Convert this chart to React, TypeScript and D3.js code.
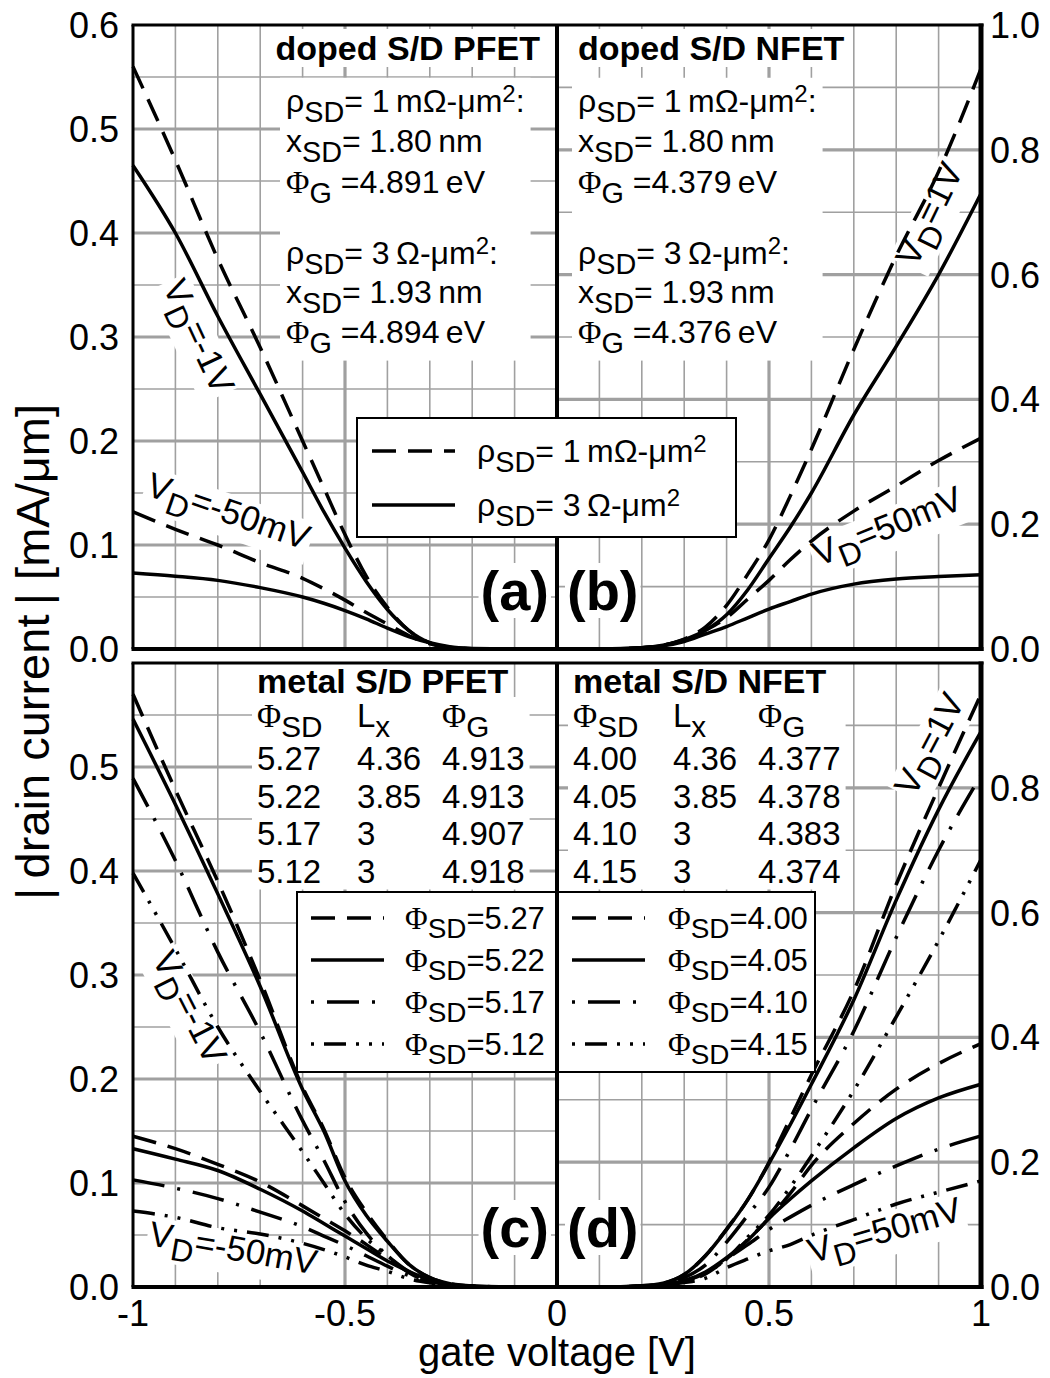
import React, { useEffect, useRef } from "react";
import * as d3 from "d3";

const W = 1050;
const H = 1378;
const FONT = "'Liberation Sans', Arial, Helvetica, sans-serif";
const SERIF = "'Liberation Serif', 'Times New Roman', serif";

// gate voltage samples [V]
const vgP = [-1, -0.9, -0.8, -0.7, -0.6, -0.55, -0.5, -0.45, -0.4, -0.35, -0.3, -0.25, -0.2, -0.1, 0];
const vgN = [0, 0.1, 0.2, 0.25, 0.3, 0.35, 0.4, 0.45, 0.5, 0.55, 0.6, 0.7, 0.8, 0.9, 1];

// (a) doped S/D PFET, |I_D| in mA/um (left axis)
const aDash1V = [0.56, 0.47, 0.375, 0.29, 0.2, 0.155, 0.11, 0.07, 0.04, 0.018, 0.006, 0.0015, 0.0003, 0, 0];
const aSolid1V = [0.465, 0.4, 0.32, 0.245, 0.17, 0.132, 0.097, 0.065, 0.038, 0.018, 0.006, 0.0015, 0.0003, 0, 0];
const aDash50 = [0.132, 0.115, 0.1, 0.083, 0.068, 0.058, 0.047, 0.035, 0.024, 0.013, 0.005, 0.0015, 0.0003, 0, 0];
const aSolid50 = [0.073, 0.07, 0.066, 0.059, 0.05, 0.044, 0.037, 0.029, 0.02, 0.012, 0.006, 0.002, 0.0005, 0, 0];

// (b) doped S/D NFET (right axis)
const bDash1V = [0, 0, 0.002, 0.006, 0.016, 0.035, 0.07, 0.12, 0.175, 0.245, 0.32, 0.48, 0.63, 0.765, 0.93];
const bSolid1V = [0, 0, 0.002, 0.006, 0.015, 0.03, 0.055, 0.095, 0.145, 0.195, 0.25, 0.375, 0.485, 0.6, 0.73];
const bDash50 = [0, 0, 0.002, 0.006, 0.014, 0.03, 0.05, 0.08, 0.11, 0.143, 0.173, 0.221, 0.261, 0.302, 0.338];
const bSolid50 = [0, 0.0003, 0.002, 0.005, 0.012, 0.024, 0.036, 0.05, 0.064, 0.076, 0.088, 0.104, 0.112, 0.116, 0.119];

// (c) metal S/D PFET (left axis)
const c527_1V = [0.57, 0.478, 0.39, 0.295, 0.192, 0.152, 0.105, 0.072, 0.045, 0.022, 0.009, 0.003, 0.001, 0, 0];
const c522_1V = [0.546, 0.464, 0.378, 0.289, 0.19, 0.15, 0.102, 0.069, 0.044, 0.022, 0.009, 0.003, 0.001, 0, 0];
const c517_1V = [0.489, 0.41, 0.322, 0.245, 0.16, 0.122, 0.082, 0.052, 0.03, 0.014, 0.005, 0.002, 0.0005, 0, 0];
const c512_1V = [0.398, 0.325, 0.25, 0.188, 0.13, 0.1, 0.07, 0.047, 0.03, 0.015, 0.006, 0.002, 0.0005, 0, 0];
const c527_50 = [0.145, 0.133, 0.118, 0.101, 0.078, 0.066, 0.054, 0.041, 0.027, 0.015, 0.007, 0.002, 0.0005, 0, 0];
const c522_50 = [0.133, 0.123, 0.112, 0.094, 0.073, 0.061, 0.049, 0.037, 0.025, 0.015, 0.007, 0.002, 0.0005, 0, 0];
const c517_50 = [0.103, 0.095, 0.085, 0.072, 0.058, 0.049, 0.04, 0.03, 0.02, 0.011, 0.005, 0.002, 0.0005, 0, 0];
const c512_50 = [0.073, 0.067, 0.057, 0.051, 0.042, 0.036, 0.029, 0.021, 0.015, 0.008, 0.004, 0.0015, 0.0005, 0, 0];

// (d) metal S/D NFET (right axis)
const d400_1V = [0, 0, 0.002, 0.006, 0.02, 0.05, 0.093, 0.14, 0.2, 0.27, 0.34, 0.475, 0.645, 0.8, 0.95];
const d405_1V = [0, 0, 0.002, 0.006, 0.02, 0.05, 0.092, 0.14, 0.198, 0.26, 0.325, 0.46, 0.62, 0.765, 0.89];
const d410_1V = [0, 0, 0.001, 0.004, 0.015, 0.035, 0.072, 0.115, 0.16, 0.22, 0.285, 0.41, 0.56, 0.7, 0.82];
const d415_1V = [0, 0, 0.001, 0.003, 0.009, 0.022, 0.045, 0.08, 0.115, 0.16, 0.21, 0.315, 0.433, 0.555, 0.685];
const d400_50 = [0, 0, 0.001, 0.004, 0.009, 0.021, 0.045, 0.076, 0.11, 0.15, 0.195, 0.262, 0.317, 0.358, 0.39];
const d405_50 = [0, 0, 0.001, 0.004, 0.01, 0.024, 0.047, 0.075, 0.11, 0.141, 0.17, 0.223, 0.27, 0.303, 0.325];
const d410_50 = [0, 0, 0.001, 0.004, 0.01, 0.022, 0.045, 0.068, 0.092, 0.112, 0.131, 0.164, 0.194, 0.221, 0.242];
const d415_50 = [0, 0, 0.001, 0.003, 0.007, 0.014, 0.031, 0.045, 0.058, 0.068, 0.083, 0.108, 0.133, 0.152, 0.17];

// ticks
const xTickVals = [-1, -0.5, 0, 0.5, 1];
const xTickLabels = ["-1", "-0.5", "0", "0.5", "1"];
const leftTicksTop = [0, 0.1, 0.2, 0.3, 0.4, 0.5, 0.6];
const leftTicksBottom = [0, 0.1, 0.2, 0.3, 0.4, 0.5];
const rightTicksTop = [0, 0.2, 0.4, 0.6, 0.8, 1.0];
const rightTicksBottom = [0, 0.2, 0.4, 0.6, 0.8];

// annotation texts
const dopedP = ["ρ_{SD}= 1\u2009mΩ-μm^{2}:", "x_{SD}= 1.80\u2009nm", "Φ_{G} =4.891\u2009eV", "ρ_{SD}= 3\u2009Ω-μm^{2}:", "x_{SD}= 1.93\u2009nm", "Φ_{G} =4.894\u2009eV"];
const dopedN = ["ρ_{SD}= 1\u2009mΩ-μm^{2}:", "x_{SD}= 1.80\u2009nm", "Φ_{G} =4.379\u2009eV", "ρ_{SD}= 3\u2009Ω-μm^{2}:", "x_{SD}= 1.93\u2009nm", "Φ_{G} =4.376\u2009eV"];
const tableHead = ["Φ_{SD}", "L_{x}", "Φ_{G}"];
const metalP = [["5.27", "4.36", "4.913"], ["5.22", "3.85", "4.913"], ["5.17", "3", "4.907"], ["5.12", "3", "4.918"]];
const metalN = [["4.00", "4.36", "4.377"], ["4.05", "3.85", "4.378"], ["4.10", "3", "4.383"], ["4.15", "3", "4.374"]];
const phiP = ["5.27", "5.22", "5.17", "5.12"];
const phiN = ["4.00", "4.05", "4.10", "4.15"];
const metalStyles = ["dash", "solid", "dashdot", "dashdotdot"];

const dashes: Record<string, string | null> = {
  solid: null,
  dash: "24,12",
  dashdot: "32,13,3,13",
  dashdotdot: "22,10,3,10,3,10",
};

type Sel = d3.Selection<any, unknown, null, undefined>;

function tokens(s: string): [string, string][] {
  const out: [string, string][] = [];
  const re = /([_^])\{([^}]*)\}/g;
  let last = 0;
  let m: RegExpExecArray | null;
  while ((m = re.exec(s))) {
    if (m.index > last) out.push([s.slice(last, m.index), "n"]);
    out.push([m[2], m[1] === "_" ? "b" : "p"]);
    last = re.lastIndex;
  }
  if (last < s.length) out.push([s.slice(last), "n"]);
  return out;
}

// text with _{sub} and ^{sup}
function rich(parent: Sel, x: number, y: number, s: string, fs: number, anchor = "start", weight = "normal") {
  const t = parent
    .append("text")
    .attr("x", x)
    .attr("y", y)
    .attr("text-anchor", anchor)
    .attr("font-weight", weight)
    .attr("font-size", fs)
    .style("white-space", "pre");
  let shift = 0;
  tokens(s).forEach(([str, k]) => {
    const target = k === "b" ? 0.3 * fs : k === "p" ? -0.32 * fs : 0;
    const size = k === "n" ? fs : k === "b" ? 0.9 * fs : 0.75 * fs;
    str
      .split(/(Φ)/)
      .filter((q) => q.length > 0)
      .forEach((q, i) => {
        const ts = t.append("tspan").attr("font-size", size).text(q);
        if (i === 0) ts.attr("dy", target - shift);
        if (q === "Φ") ts.attr("font-family", SERIF);
      });
    shift = target;
  });
  return t;
}

function whiteBack(g: Sel, px = 5, py = 2) {
  const b = (g.node() as SVGGraphicsElement).getBBox();
  g.insert("rect", ":first-child")
    .attr("x", b.x - px)
    .attr("y", b.y - py)
    .attr("width", b.width + 2 * px)
    .attr("height", b.height + 2 * py)
    .attr("fill", "white");
}

export default function App() {
  const ref = useRef<SVGSVGElement>(null);

  useEffect(() => {
    const svg = d3.select(ref.current);
    svg.selectAll("*").remove();
    svg.attr("font-family", FONT);
    svg.append("rect").attr("width", W).attr("height", H).attr("fill", "white");

    const x = d3.scaleLinear().domain([-1, 1]).range([133, 981]);
    const panels = [
      { top: 25, bottom: 649 },
      { top: 663, bottom: 1287 },
    ];
    const yL = panels.map((p) => d3.scaleLinear().domain([0, 0.6]).range([p.bottom, p.top]));
    const yR = panels.map((p) => d3.scaleLinear().domain([0, 1]).range([p.bottom, p.top]));

    // grid
    const grid = svg.append("g").attr("stroke", "#a0a0a0");
    panels.forEach((p, i) => {
      [false, true].forEach((major) => {
        const sw = major ? 3.2 : 1.6;
        d3.range(-9, 10)
          .filter((k) => k !== 0 && (Math.abs(k) === 5) === major)
          .forEach((k) => {
            grid.append("line").attr("x1", x(k / 10)).attr("x2", x(k / 10))
              .attr("y1", p.top).attr("y2", p.bottom).attr("stroke-width", sw);
          });
        d3.range(1, 12)
          .filter((k) => (k % 2 === 0) === major)
          .forEach((k) => {
            grid.append("line").attr("x1", x(-1)).attr("x2", x(0))
              .attr("y1", yL[i](k * 0.05)).attr("y2", yL[i](k * 0.05)).attr("stroke-width", sw);
          });
        d3.range(1, 10)
          .filter((k) => (k % 2 === 0) === major)
          .forEach((k) => {
            grid.append("line").attr("x1", x(0)).attr("x2", x(1))
              .attr("y1", yR[i](k * 0.1)).attr("y2", yR[i](k * 0.1)).attr("stroke-width", sw);
          });
      });
    });

    // annotation blocks
    const notes = svg.append("g");
    const block = (title: string, tx: number, anchor: string, lx: number, lines: string[], ys: number[]) => {
      const gt = notes.append("g");
      rich(gt, tx, 60, title, 34, anchor, "bold");
      whiteBack(gt, 4, 0);
      const gp = notes.append("g");
      lines.forEach((s, i) => rich(gp, lx, ys[i], s, 32));
      whiteBack(gp, 6, 2);
    };
    const ysDoped = [112, 152, 193, 264, 303, 343];
    block("doped S/D PFET", 540, "end", 286, dopedP, ysDoped);
    block("doped S/D NFET", 578, "start", 578, dopedN, ysDoped);

    const table = (title: string, cols: number[], rows: string[][]) => {
      const gt = notes.append("g");
      rich(gt, cols[0], 693, title, 34, "start", "bold");
      whiteBack(gt, 4, 0);
      const gp = notes.append("g");
      tableHead.forEach((h, j) => rich(gp, cols[j], 727, h, 33));
      rows.forEach((r, i) => r.forEach((v, j) => rich(gp, cols[j], 770 + i * 37.5, v, 33)));
      whiteBack(gp, 5, 0);
    };
    table("metal S/D PFET", [257, 357, 442], metalP);
    table("metal S/D NFET", [573, 673, 758], metalN);

    [
      { s: "(a)", x: 549, y: 610, a: "end" },
      { s: "(b)", x: 567, y: 610, a: "start" },
      { s: "(c)", x: 549, y: 1247, a: "end" },
      { s: "(d)", x: 567, y: 1247, a: "start" },
    ].forEach((d) => {
      const g = notes.append("g");
      rich(g, d.x, d.y, d.s, 56, d.a, "bold");
      whiteBack(g, 2, -4);
    });

    [
      { cx: 197, cy: 337, a: 65, s: "V_{D}=-1V" },
      { cx: 228, cy: 513, a: 19, s: "V_{D}=-50mV" },
      { cx: 931, cy: 215, a: -64, s: "V_{D}=1V" },
      { cx: 888, cy: 528, a: -22, s: "V_{D}=50mV" },
      { cx: 188, cy: 1008, a: 63, s: "V_{D}=-1V" },
      { cx: 233, cy: 1250, a: 10, s: "V_{D}=-50mV" },
      { cx: 931, cy: 745, a: -62, s: "V_{D}=1V" },
      { cx: 885, cy: 1232, a: -16, s: "V_{D}=50mV" },
    ].forEach((d) => {
      const g = notes.append("g").attr("transform", `translate(${d.cx},${d.cy}) rotate(${d.a})`);
      rich(g, 0, 10, d.s, 35, "middle");
      whiteBack(g, 2, -3);
    });

    // curves
    const curves = svg.append("g").attr("fill", "none").attr("stroke", "black")
      .attr("stroke-width", 3.5).attr("stroke-linejoin", "round");
    const draw = (xs: number[], ys: number[], y: d3.ScaleLinear<number, number>, style: string) => {
      const line = d3.line<number>().x((_, i) => x(xs[i])).y((v) => y(v)).curve(d3.curveMonotoneX);
      const path = curves.append("path").attr("d", line(ys));
      if (dashes[style]) path.attr("stroke-dasharray", dashes[style]);
    };
    draw(vgP, aDash1V, yL[0], "dash");
    draw(vgP, aSolid1V, yL[0], "solid");
    draw(vgP, aDash50, yL[0], "dash");
    draw(vgP, aSolid50, yL[0], "solid");
    draw(vgN, bDash1V, yR[0], "dash");
    draw(vgN, bSolid1V, yR[0], "solid");
    draw(vgN, bDash50, yR[0], "dash");
    draw(vgN, bSolid50, yR[0], "solid");
    [c527_1V, c522_1V, c517_1V, c512_1V].forEach((ys, i) => draw(vgP, ys, yL[1], metalStyles[i]));
    [c527_50, c522_50, c517_50, c512_50].forEach((ys, i) => draw(vgP, ys, yL[1], metalStyles[i]));
    [d400_1V, d405_1V, d410_1V, d415_1V].forEach((ys, i) => draw(vgN, ys, yR[1], metalStyles[i]));
    [d400_50, d405_50, d410_50, d415_50].forEach((ys, i) => draw(vgN, ys, yR[1], metalStyles[i]));

    // frames
    const frame = svg.append("g").attr("stroke", "black").attr("fill", "none");
    panels.forEach((p) => {
      frame.append("line").attr("x1", x(-1) - 1.5).attr("x2", x(1) + 2.5).attr("y1", p.top).attr("y2", p.top).attr("stroke-width", 3);
      frame.append("line").attr("x1", x(-1) - 1.5).attr("x2", x(1) + 2.5).attr("y1", p.bottom).attr("y2", p.bottom).attr("stroke-width", 4);
      frame.append("line").attr("x1", x(-1)).attr("x2", x(-1)).attr("y1", p.top).attr("y2", p.bottom).attr("stroke-width", 3);
      frame.append("line").attr("x1", x(0)).attr("x2", x(0)).attr("y1", p.top).attr("y2", p.bottom).attr("stroke-width", 4);
      frame.append("line").attr("x1", x(1)).attr("x2", x(1)).attr("y1", p.top - 1.5).attr("y2", p.bottom + 2).attr("stroke-width", 5);
    });

    // legends (drawn over the centre divider)
    const legend = (x0: number, y0: number, x1: number, y1: number, sx: number[], tx: number, fs: number,
      rows: { style: string; y: number; label: string }[]) => {
      const g = svg.append("g");
      g.append("rect").attr("x", x0).attr("y", y0).attr("width", x1 - x0).attr("height", y1 - y0)
        .attr("fill", "white").attr("stroke", "black").attr("stroke-width", 2);
      rows.forEach((r) => {
        const ln = g.append("line").attr("x1", sx[0]).attr("x2", sx[1]).attr("y1", r.y).attr("y2", r.y)
          .attr("stroke", "black").attr("stroke-width", 3.5);
        if (dashes[r.style]) {
          ln.attr("stroke-dasharray", dashes[r.style]);
          if (r.style !== "dash") ln.attr("stroke-dashoffset", 45);
        }
        rich(g, tx, r.y + 11, r.label, fs);
      });
    };
    legend(357, 418, 736, 537, [372, 455], 477, 32, [
      { style: "dash", y: 451, label: "ρ_{SD}= 1\u2009mΩ-μm^{2}" },
      { style: "solid", y: 505, label: "ρ_{SD}= 3\u2009Ω-μm^{2}" },
    ]);
    const rowY = [918, 960, 1002, 1044];
    legend(297, 892, 557, 1072, [311, 384], 405, 31,
      phiP.map((p, i) => ({ style: metalStyles[i], y: rowY[i], label: `Φ_{SD}=${p}` })));
    legend(557, 892, 815, 1072, [572, 645], 668, 31,
      phiN.map((p, i) => ({ style: metalStyles[i], y: rowY[i], label: `Φ_{SD}=${p}` })));
    frame.raise();
    svg.selectAll("g").filter((_, i, n) => (n[i] as Element).querySelector("rect[x='357']") !== null).raise();

    // tick labels
    const ticks = svg.append("g").attr("font-size", 36).attr("fill", "black");
    const fmt = d3.format(".1f");
    leftTicksTop.forEach((v) => ticks.append("text").attr("x", 119).attr("y", yL[0](v) + 13).attr("text-anchor", "end").text(fmt(v)));
    leftTicksBottom.forEach((v) => ticks.append("text").attr("x", 119).attr("y", yL[1](v) + 13).attr("text-anchor", "end").text(fmt(v)));
    rightTicksTop.forEach((v) => ticks.append("text").attr("x", 990).attr("y", yR[0](v) + 13).text(fmt(v)));
    rightTicksBottom.forEach((v) => ticks.append("text").attr("x", 990).attr("y", yR[1](v) + 13).text(fmt(v)));
    xTickVals.forEach((v, i) => ticks.append("text").attr("x", x(v)).attr("y", 1326).attr("text-anchor", "middle").text(xTickLabels[i]));

    svg.append("text").attr("x", x(0)).attr("y", 1366).attr("text-anchor", "middle")
      .attr("font-size", 40).text("gate voltage [V]");
    svg.append("text").attr("transform", "translate(49,652) rotate(-90)").attr("text-anchor", "middle")
      .attr("font-size", 47).style("white-space", "pre").text("|\u2009drain current\u2009| [mA/μm]");
  }, []);

  return (
    <svg
      ref={ref}
      width={W}
      height={H}
      style={{ position: "absolute", left: 0, top: 0 }}
    />
  );
}
